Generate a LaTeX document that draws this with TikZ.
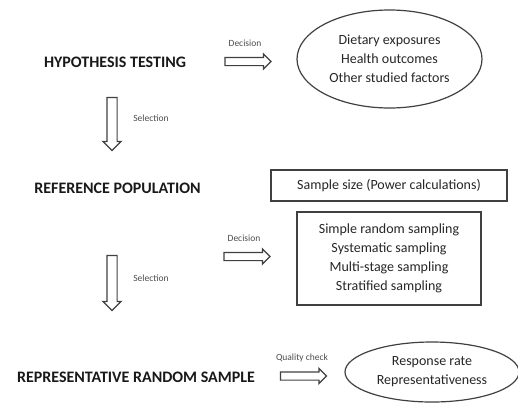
\documentclass[tikz,border=0pt]{standalone}
\usepackage{fontspec}
\setmainfont{Carlito}
\usetikzlibrary{shapes.geometric,shapes.arrows}

\tikzset{
	stage/.style={font=\fontsize{16}{18}\selectfont\bfseries, text=black!90},
	item/.style={align=center, font=\fontsize{14}{19}\selectfont, text=black!85, inner sep=0pt},
	note/.style={font=\fontsize{9.5}{11}\selectfont, text=black!70},
	hollow/.style={single arrow, draw=black!75, line width=1.2pt, inner sep=3.5pt, minimum width=14pt, single arrow head extend=3.5pt, minimum height=46pt},
	hollowdown/.style={hollow, shape border rotate=270, inner sep=4.5pt, minimum width=17pt, single arrow head extend=4pt},
}

\begin{document}
\begin{tikzpicture}[x=1pt, y=-1pt]
		% Frame
		\clip (0,0) rectangle (518,402);
		
		% Stages
		\node[stage] (hyp) at (115,62) {HYPOTHESIS TESTING};
		\node[stage] (refpop) at (117.5,188) {REFERENCE POPULATION};
		\node[stage] (sample) at (136,377) {REPRESENTATIVE RANDOM SAMPLE};
		
		% Hollow arrows
		\node[hollow] (dec1) at (246,61.5) {};
		\node[hollow] (dec2) at (245,256.5) {};
		\node[hollow] (qual) at (301.5,376) {};
		\node[hollowdown, minimum height=53pt] (sel1) at (112,121.5) {};
		\node[hollowdown, minimum height=55pt] (sel2) at (112,280.5) {};
		
		% Labels
		\node[note] (dec1lbl) at (245,43) {Decision};
		\node[note] (dec2lbl) at (244,238) {Decision};
		\node[note] (quallbl) at (302,358) {Quality check};
		\node[note] (sel1lbl) at (151,118) {Selection};
		\node[note] (sel2lbl) at (151,278) {Selection};
		
		% Boxes
		\node[draw=black!75, line width=1.2pt, ellipse, item, minimum width=185pt, minimum height=98pt] (factors) at (389.5,59) {Dietary exposures\\Health outcomes\\Other studied factors};
		\node[draw=black!75, line width=1.2pt, item, minimum width=236pt, minimum height=31pt] (size) at (389,185.5) {Sample size (Power calculations)};
		\node[draw=black!75, line width=1.2pt, item, minimum width=184pt, minimum height=93pt] (methods) at (389,258.5) {Simple random sampling\\Systematic sampling\\Multi-stage sampling\\Stratified sampling};
		\node[draw=black!75, line width=1.2pt, ellipse, item, minimum width=174pt, minimum height=60pt] (response) at (432,372) {Response rate\\Representativeness};
	\end{tikzpicture}
\end{document}
